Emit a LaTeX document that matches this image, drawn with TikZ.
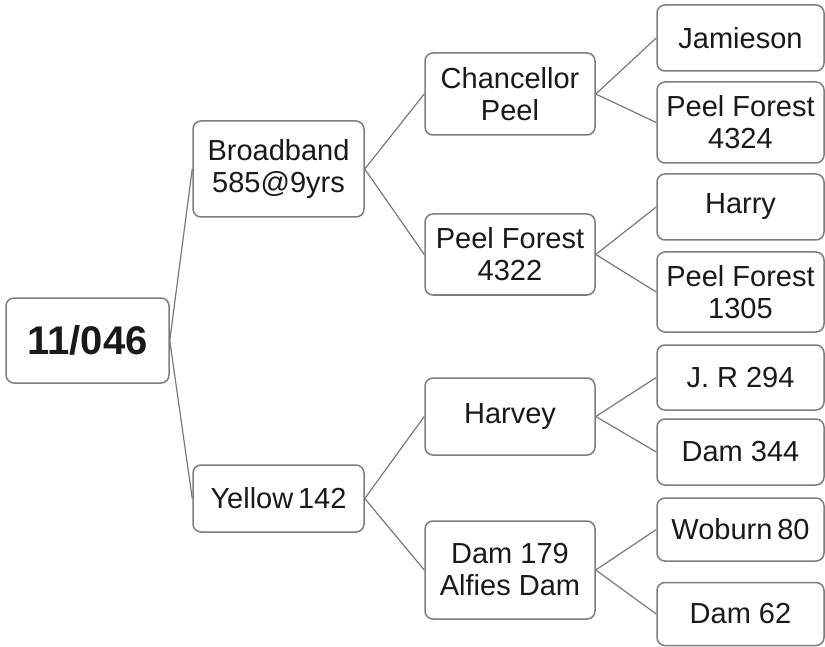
\documentclass[tikz,border=0pt]{standalone}
\usepackage{fontspec}
\setmainfont{Liberation Sans}
\usepackage{tikz}
\usetikzlibrary{calc, positioning}
\usepackage{xcolor}
\definecolor{boxLine}{RGB}{125, 125, 125}
\definecolor{linkLine}{RGB}{120, 120, 120}
\definecolor{txtDark}{RGB}{25, 25, 25}

\tikzset{
  leaf/.style={draw=boxLine, line width=1.5pt, rounded corners=8pt, fill=white,
    align=center, inner sep=0pt, text=txtDark,
    font=\fontsize{29}{32}\selectfont},
  link/.style={draw=linkLine, line width=1.2pt}
}

\begin{document}
\begin{tikzpicture}[x=1pt, y=-1pt]
  \useasboundingbox (0, 0) rectangle (825, 647);

  % root
  \node[leaf, minimum width=163, minimum height=85,
    font=\fontsize{40}{42}\selectfont\bfseries] (root) at (87.5, 340.5) {11/046};

  % first level
  \node[leaf, minimum width=171, minimum height=96] (broad) at (278.5, 169) {Broadband\\585@9yrs};
  \node[leaf, minimum width=171, minimum height=67] (yellow) at (278.5, 498.5) {Yellow\,142};

  % second level
  \node[leaf, minimum width=170, minimum height=82] (chanc) at (510, 94) {Chancellor\\Peel};
  \node[leaf, minimum width=170, minimum height=81] (pfA) at (510, 254.5) {Peel Forest\\4322};
  \node[leaf, minimum width=170, minimum height=77] (harvey) at (510, 416.5) {Harvey};
  \node[leaf, minimum width=170, minimum height=98] (damA) at (510, 570) {Dam 179\\Alfies Dam};

  % third level
  \node[leaf, minimum width=167, minimum height=66] (jamie) at (740.5, 38) {Jamieson};
  \node[leaf, minimum width=167, minimum height=81] (pfB) at (740.5, 122.5) {Peel Forest\\4324};
  \node[leaf, minimum width=167, minimum height=66] (harry) at (740.5, 207) {Harry};
  \node[leaf, minimum width=167, minimum height=80] (pfC) at (740.5, 292) {Peel Forest\\1305};
  \node[leaf, minimum width=167, minimum height=65] (jr) at (740.5, 377.5) {J. R 294};
  \node[leaf, minimum width=167, minimum height=66] (damB) at (740.5, 452) {Dam 344};
  \node[leaf, minimum width=167, minimum height=63] (woburn) at (740.5, 529.5) {Woburn\,80};
  \node[leaf, minimum width=167, minimum height=63] (damC) at (740.5, 614) {Dam 62};

  \draw[link] (root.east) -- (broad.west);
  \draw[link] (root.east) -- (yellow.west);

  \draw[link] (broad.east) -- (chanc.west);
  \draw[link] (broad.east) -- (pfA.west);
  \draw[link] (yellow.east) -- (harvey.west);
  \draw[link] (yellow.east) -- (damA.west);

  \draw[link] (chanc.east) -- (jamie.west);
  \draw[link] (chanc.east) -- (pfB.west);
  \draw[link] (pfA.east) -- (harry.west);
  \draw[link] (pfA.east) -- (pfC.west);
  \draw[link] (harvey.east) -- (jr.west);
  \draw[link] (harvey.east) -- (damB.west);
  \draw[link] (damA.east) -- (woburn.west);
  \draw[link] (damA.east) -- (damC.west);
\end{tikzpicture}
\end{document}
